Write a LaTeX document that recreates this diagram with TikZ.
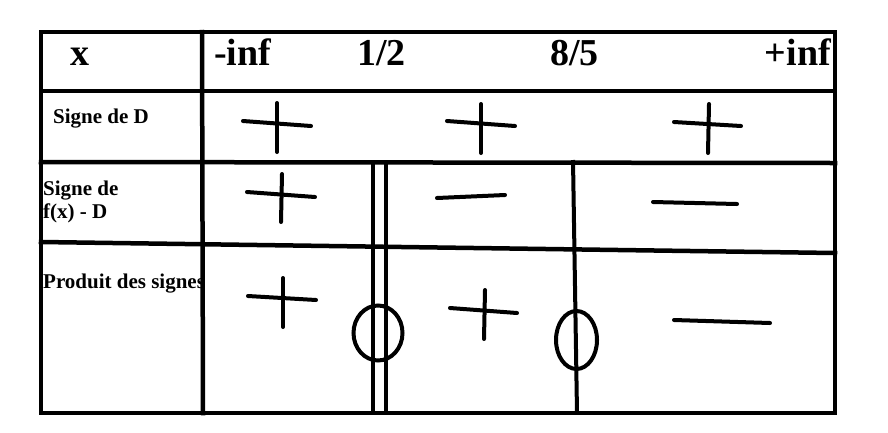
\documentclass[tikz,border=0pt]{standalone}
\usepackage{fontspec}
\setmainfont{Liberation Serif}
\usepackage{xcolor}

\begin{document}
\begin{tikzpicture}[x=1pt, y=-1pt,
  trait/.style={line width=4.5pt, line cap=rect},
  signe/.style={line width=4pt, line cap=round},
  entete/.style={anchor=base west, inner sep=0pt, font=\bfseries\fontsize{38}{40}\selectfont},
  libelle/.style={anchor=base west, inner sep=0pt, align=left, font=\bfseries\fontsize{21}{23}\selectfont}]
 \useasboundingbox (0,0) rectangle (888,432);

 \coordinate (NW) at (41,32);
 \coordinate (NE) at (835,32);
 \coordinate (SW) at (41,413);
 \coordinate (SE) at (835,413);

 \node[entete] (x) at (70,65) {x};
 \node[entete] (minf) at (214,65) {-inf};
 \node[entete] (demi) at (357,65) {1/2};
 \node[entete] (huitc) at (550,65) {8/5};
 \node[entete, anchor=base east] (pinf) at (831,65) {+inf};

 \node[libelle] (sD) at (53,123) {Signe de D};
 \node[libelle] (sfD) at (43,218) {Signe de\\f(x) - D};
 \node[libelle] (prod) at (43,288) {Produit des signes};

 \draw[trait] (NW) rectangle (SE);
 \draw[trait] (202,32) -- (203,413);
 \draw[trait] (41,91) -- (835,91);
 \draw[trait] (41,162) -- (835,163);
 \draw[trait] (41,242) -- (835,253);

 \draw[line width=4pt] (373,162) -- (373,413);
 \draw[line width=4pt] (386,162) -- (386,413);
 \draw[line width=4pt] (573,160) -- (577,413);

 \draw[line width=4pt] (378,333) ellipse (24.5 and 27.5);
 \draw[line width=4pt] (576.5,340) ellipse (20.5 and 29);

 % Signe de D
 \draw[signe] (243,121) -- (311,126);
 \draw[signe] (277,103) -- (277,152);
 \draw[signe] (447,121) -- (515,126);
 \draw[signe] (481,104) -- (481,153);
 \draw[signe] (674,122) -- (741,126);
 \draw[signe] (709,104) -- (708,153);

 % Signe de f(x) - D
 \draw[signe] (247,192) -- (315,197);
 \draw[signe] (282,174) -- (281,222);
 \draw[signe] (437,198) -- (505,195);
 \draw[signe] (653,202) -- (737,204);

 % Produit des signes
 \draw[signe] (248,296) -- (316,300);
 \draw[signe] (283,278) -- (283,327);
 \draw[signe] (450,308) -- (517,313);
 \draw[signe] (485,290) -- (484,339);
 \draw[signe] (674,320) -- (770,323);

\end{tikzpicture}
\end{document}
